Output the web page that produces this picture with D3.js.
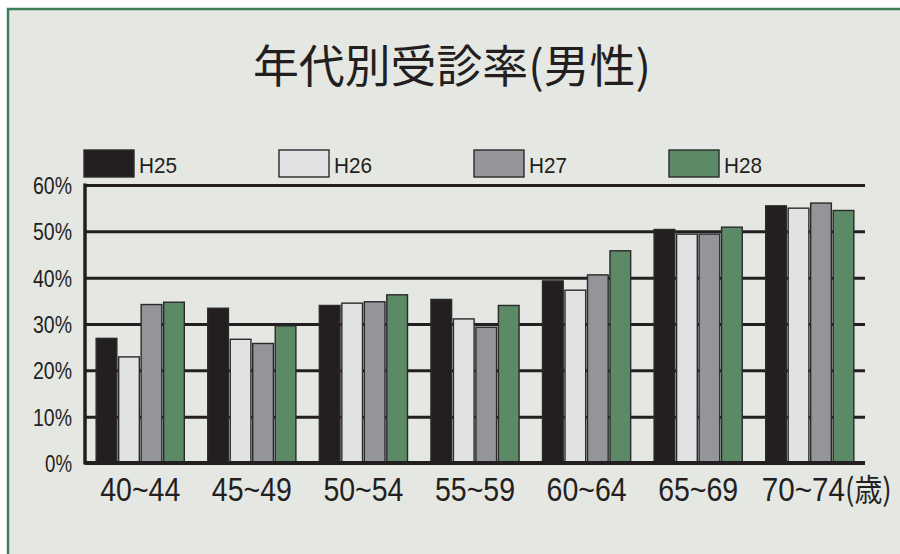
<!DOCTYPE html>
<html>
<head>
<meta charset="utf-8">
<script src="https://cdn.jsdelivr.net/npm/d3@7"></script>
<style>
  body { margin: 0; background: #fff; }
  svg { display: block; }
  .lat { font-family: "Liberation Sans", Arial, sans-serif; fill: #231f20; }
</style>
</head>
<body>
<svg id="chart"></svg>
<script>
// data
let ageGroups = ["40~44", "45~49", "50~54", "55~59", "60~64", "65~69", "70~74"];
let years = ["H25", "H26", "H27", "H28"];
let h25 = [26.9, 33.4, 34.0, 35.3, 39.3, 50.4, 55.5];
let h26 = [22.9, 26.7, 34.5, 31.1, 37.3, 49.4, 55.0];
let h27 = [34.2, 25.8, 34.8, 29.3, 40.6, 49.4, 56.1];
let h28 = [34.7, 29.6, 36.3, 34.0, 45.8, 50.9, 54.5];
let yTicks = [0, 10, 20, 30, 40, 50, 60];

let seriesValues = [h25, h26, h27, h28];
let colors = ["#231f20", "#e1e2e4", "#939598", "#5c8966"];

let width = 900, height = 554;
let margin = {top: 185, bottom: 91, left: 85, right: 35};

let svg = d3.select("#chart")
    .attr("width", width)
    .attr("height", height);

// panel background + green frame (top and left only)
svg.append("rect")
    .attr("x", 8).attr("y", 9)
    .attr("width", width).attr("height", height)
    .attr("fill", "#e5e7e3");
svg.append("path")
    .attr("d", "M8," + height + "V9H" + width)
    .attr("fill", "none")
    .attr("stroke", "#3d7f57")
    .attr("stroke-width", 2.5);

svg.append("text")
    .attr("x", 452)
    .attr("y", 83)
    .attr("text-anchor", "middle")
    .attr("textLength", 398)
    .attr("lengthAdjust", "spacingAndGlyphs")
    .style("font-family", "'Noto Sans CJK JP', sans-serif")
    .style("font-size", "45px")
    .style("fill", "#231f20")
    .text("年代別受診率(男性)");

let x0 = d3.scaleBand()
    .domain(ageGroups)
    .range([margin.left, width - margin.right])
    .paddingInner(0.21)
    .paddingOuter(0.1);

let x1 = d3.scaleBand()
    .domain(years)
    .range([0, x0.bandwidth()])
    .paddingInner(0.08);

let y = d3.scaleLinear()
    .domain([0, 60])
    .range([height - margin.bottom, margin.top]);

// gridlines
let grid = svg.append("g")
    .attr("transform", "translate(" + margin.left + ",0)")
    .call(d3.axisLeft(y).tickValues(yTicks).tickSize(-(width - margin.right - margin.left)).tickFormat(""));
grid.select(".domain").remove();
grid.selectAll("line").attr("stroke", "#231f20").attr("stroke-width", 3);

// bars
let rows = ageGroups.map((g, i) => ({group: g, vals: years.map((yr, j) => ({year: yr, v: seriesValues[j][i], c: colors[j]}))}));

let groups = svg.append("g").selectAll("g")
    .data(rows)
    .enter().append("g")
    .attr("transform", d => "translate(" + x0(d.group) + ",0)");

groups.selectAll("rect")
    .data(d => d.vals)
    .enter().append("rect")
    .attr("x", d => x1(d.year))
    .attr("y", d => y(d.v))
    .attr("width", x1.bandwidth())
    .attr("height", d => y(0) - y(d.v))
    .attr("fill", d => d.c)
    .attr("stroke", "#2b2a2b")
    .attr("stroke-width", 1.4);

// axis lines
svg.append("line")
    .attr("x1", margin.left).attr("x2", margin.left)
    .attr("y1", y(60) - 1.5).attr("y2", y(0) + 1.5)
    .attr("stroke", "#231f20").attr("stroke-width", 3.5);
svg.append("line")
    .attr("x1", margin.left).attr("x2", width - margin.right)
    .attr("y1", y(0)).attr("y2", y(0))
    .attr("stroke", "#231f20").attr("stroke-width", 4);

// y labels
let yAxis = svg.append("g")
    .attr("transform", "translate(" + margin.left + ",0)")
    .call(d3.axisLeft(y).tickValues(yTicks).tickSize(0).tickPadding(13).tickFormat(d => d + "%"));
yAxis.select(".domain").remove();
yAxis.selectAll("text")
    .attr("class", "lat")
    .attr("dy", "0.36em")
    .attr("textLength", d => d === 0 ? 27 : 39)
    .attr("lengthAdjust", "spacingAndGlyphs")
    .style("font-size", "24px");

// x labels
let xAxis = svg.append("g")
    .attr("transform", "translate(0," + y(0) + ")")
    .call(d3.axisBottom(x0).tickSize(0).tickPadding(15));
xAxis.select(".domain").remove();
xAxis.selectAll("text")
    .attr("class", "lat")
    .attr("dy", "0.71em")
    .attr("textLength", 80)
    .attr("lengthAdjust", "spacingAndGlyphs")
    .style("font-size", "33px");
// last label carries the unit "(歳)"
let lastText = xAxis.selectAll(".tick").filter((d, i) => i === ageGroups.length - 1).select("text");
lastText.attr("text-anchor", "start")
    .attr("x", -48)
    .attr("textLength", 130);
lastText.append("tspan")
    .style("font-family", "'Noto Sans CJK JP', sans-serif")
    .style("font-size", "31px")
    .text("(歳)");

// legend
let legend = svg.append("g").selectAll("g")
    .data(years)
    .enter().append("g")
    .attr("transform", (d, i) => "translate(" + (84 + i * 195) + ",150)");
legend.append("rect")
    .attr("width", 50).attr("height", 27)
    .attr("fill", (d, i) => colors[i])
    .attr("stroke", "#2b2a2b")
    .attr("stroke-width", 1.4);
legend.append("text")
    .attr("class", "lat")
    .attr("x", 55)
    .attr("y", 23)
    .attr("textLength", 38)
    .attr("lengthAdjust", "spacingAndGlyphs")
    .style("font-size", "22px")
    .text(d => d);
</script>
</body>
</html>
